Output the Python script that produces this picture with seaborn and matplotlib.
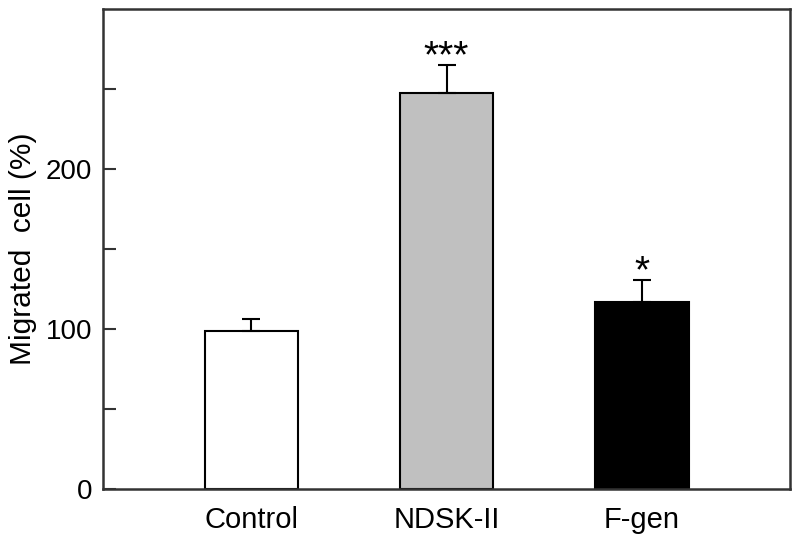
import numpy as np
import pandas as pd
import seaborn as sns
import matplotlib
matplotlib.use("Agg")
import matplotlib.pyplot as plt

groups = ["Control", "NDSK-II", "F-gen"]
migrated = [99, 248, 117]
sem = [7, 17.5, 14]
stars = ["", "***", "*"]
bar_colors = ["#ffffff", "#c0c0c0", "#000000"]

sns.set_theme(style="ticks")
plt.rcParams["font.family"] = ["Liberation Sans", "DejaVu Sans"]
plt.rcParams["text.color"] = "black"
plt.rcParams["axes.labelcolor"] = "black"
plt.rcParams["xtick.color"] = "black"
plt.rcParams["ytick.color"] = "black"

df = pd.DataFrame({"group": groups, "migrated": migrated, "sem": sem})

fig = plt.figure(figsize=(8, 5.45), dpi=100)
ax = fig.add_axes([0.129, 0.103, 0.8585, 0.8797])

sns.barplot(data=df, x="group", y="migrated", hue="group", palette=bar_colors,
            edgecolor="black", linewidth=1.5, width=0.48, errorbar=None,
            legend=False, ax=ax)

# upper-only error bars
x = np.arange(len(groups))
ax.errorbar(x, df["migrated"], yerr=[np.zeros(len(groups)), df["sem"]],
            fmt="none", ecolor="black", elinewidth=1.5, capsize=6.5,
            capthick=1.5, zorder=1)

for xi, y, e, s in zip(x, migrated, sem, stars):
    if s:
        ax.text(xi, y + e + 4.5, s, ha="center", va="center", fontsize=28)

ax.set_xlim(-0.76, 2.76)
ax.set_ylim(0, 300)
ax.set_yticks([0, 50, 100, 150, 200, 250])
ax.set_yticklabels(["0", "", "100", "", "200", ""])
ax.tick_params(axis="y", direction="in", length=9.5, width=1.5, labelsize=20,
               pad=8, color="#333333")
ax.tick_params(axis="x", length=0, labelsize=21, pad=12)
ax.set_xlabel("")
ax.set_ylabel("Migrated  cell (%)", fontsize=21.5, labelpad=6)
for sp in ax.spines.values():
    sp.set_linewidth(1.8)
    sp.set_color("#333333")

fig.savefig("out.png", dpi=100)
